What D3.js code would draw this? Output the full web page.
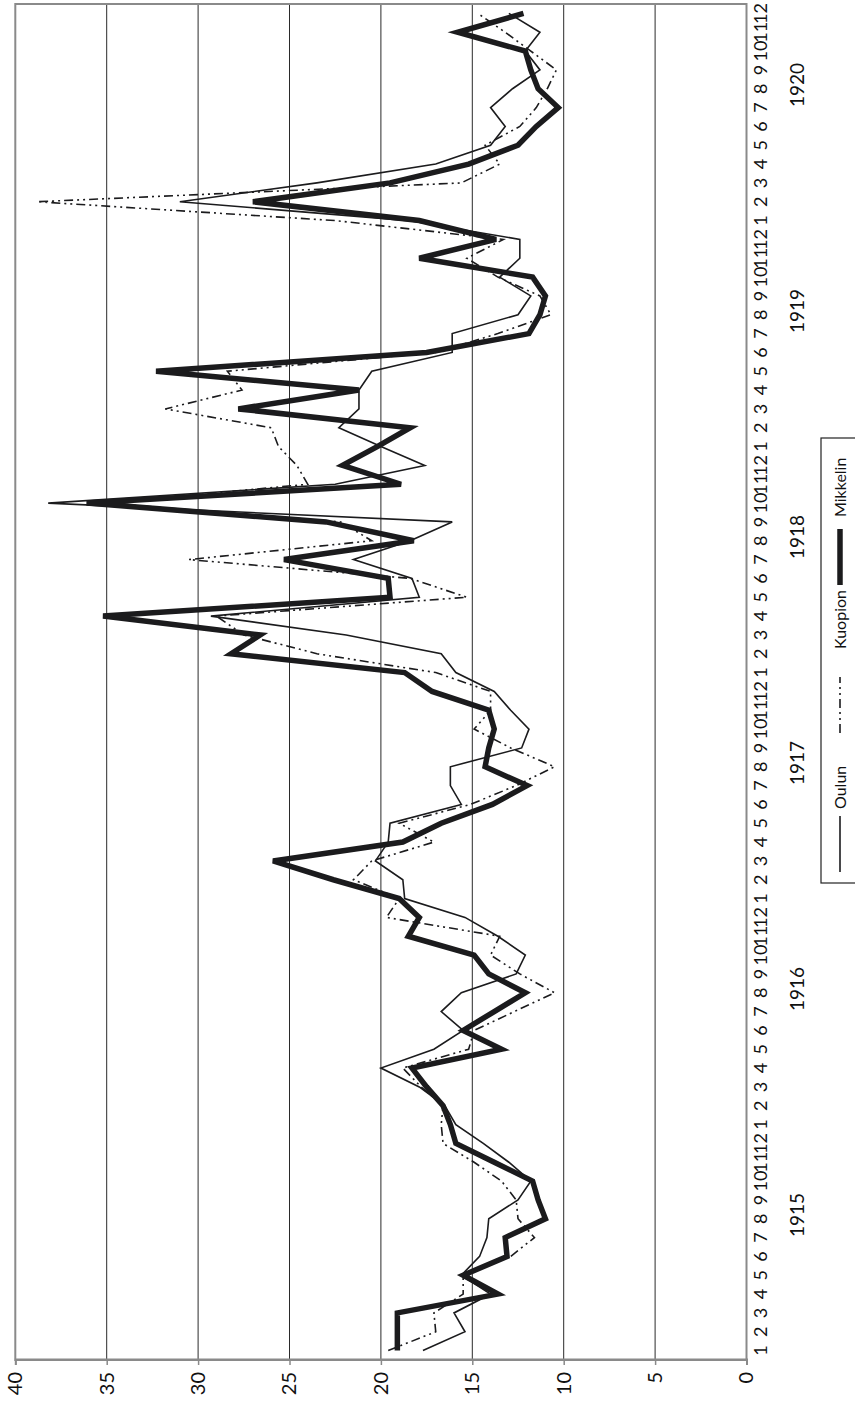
<!DOCTYPE html>
<html>
<head>
<meta charset="utf-8">
<script src="https://cdn.jsdelivr.net/npm/d3@7"></script>
<style>
  html, body { margin: 0; padding: 0; background: #fff; }
  svg { display: block; }
  text { font-family: Lato, "Open Sans", "Noto Sans", sans-serif; fill: #111; }
</style>
</head>
<body>
<svg id="chart" width="855" height="1403"></svg>
<script>
// Monthly series 1915–1920, one value per month
const years = ["1915", "1916", "1917", "1918", "1919", "1920"];
const monthLabels = ["1", "2", "3", "4", "5", "6", "7", "8", "9", "10", "11", "12"];
const valueTicks = [0, 5, 10, 15, 20, 25, 30, 35, 40];
const seriesNames = ["Oulun", "Kuopion", "Mikkelin"];

const oulun = [
  17.7, 15.4, 16.0, 14.0, 15.6, 14.6, 14.2, 14.1, 12.5, 11.8, 13.0, 14.4,
  15.9, 16.5, 17.9, 20.0, 17.1, 15.5, 16.7, 15.6, 12.6, 12.1, 13.6, 15.4,
  18.7, 18.8, 20.3, 19.6, 19.5, 15.6, 16.2, 16.2, 12.3, 11.9, 12.9, 13.8,
  15.9, 16.7, 21.9, 29.3, 17.9, 18.3, 21.5, 18.4, 16.1, 38.2, 22.5, 17.6,
  20.0, 22.3, 21.2, 21.2, 20.5, 16.1, 16.1, 12.5, 11.8, 13.5, 12.4, 12.4,
  18.5, 31.0, 23.5, 17.0, 14.0, 13.2, 14.0, 12.8, 11.3, 12.1, 11.3, 13.0
];
const kuopion = [
  19.6, 17.0, 17.1, 15.5, 15.5, 12.9, 11.6, 12.5, 12.6, 13.4, 14.9, 16.6,
  16.7, 16.6, 17.8, 18.8, 15.2, 14.9, 12.7, 10.5, 12.4, 14.0, 13.5, 19.7,
  19.0, 21.5, 20.5, 17.1, 19.0, 15.1, 12.6, 10.5, 12.9, 14.9, 14.0, 14.0,
  17.0, 23.5, 27.5, 29.0, 15.3, 18.4, 30.5, 20.5, 22.2, 35.0, 24.0, 24.6,
  25.6, 26.0, 31.8, 27.6, 28.4, 17.0, 13.6, 10.7, 11.3, 13.6, 15.3, 13.3,
  22.5, 38.8, 15.6, 13.5, 14.3, 12.4, 11.5, 10.9, 10.4, 11.8, 13.2, 14.7
];
const mikkelin = [
  19.1, 19.1, 19.1, 13.6, 15.5, 13.1, 13.2, 11.0, 11.4, 11.7, 13.8, 15.9,
  16.2, 16.6, 17.5, 18.3, 13.4, 15.5, 13.8, 12.1, 14.1, 14.9, 18.5, 17.9,
  19.0, 22.6, 25.9, 18.8, 16.7, 13.9, 12.0, 14.3, 14.1, 13.8, 14.1, 17.2,
  18.7, 28.2, 26.6, 35.2, 19.5, 19.6, 25.3, 18.2, 23.0, 36.1, 18.9, 22.1,
  20.2, 18.4, 27.8, 21.2, 32.3, 17.5, 11.9, 11.3, 11.0, 11.7, 17.9, 13.7,
  17.9, 27.0, 19.5, 15.2, 12.5, 11.5, 10.3, 11.4, 11.8, 12.1, 15.8, 12.2
];

// The chart is laid out landscape (FW x FH) and then turned a quarter turn
// counter-clockwise onto the portrait page.
const FW = 1403, FH = 855;
const plot = { left: 43, right: 1399, top: 15.3, bottom: 746.5 };
const fontStack = 'Lato, "Open Sans", "Noto Sans", sans-serif';

const svg = d3.select("#chart");
const g = svg.append("g").attr("transform", `translate(0,${FW}) rotate(-90)`);

// category index for every month of every year
const months = [];
years.forEach((yr, yi) => monthLabels.forEach((m, mi) => months.push({ yr, m, i: yi * 12 + mi })));

const x = d3.scaleBand().domain(months.map(d => d.i)).range([plot.left, plot.right]).padding(0);
const cx = i => x(i) + x.bandwidth() / 2;
const y = d3.scaleLinear().domain([0, 40]).range([plot.bottom, plot.top]);

// horizontal gridlines
g.append("g").selectAll("line")
  .data(valueTicks.filter(v => v > 0 && v < 40))
  .join("line")
  .attr("x1", plot.left).attr("x2", plot.right)
  .attr("y1", d => y(d)).attr("y2", d => y(d))
  .attr("stroke", "#2a2a2a").attr("stroke-width", 1);

// plot frame
g.append("rect")
  .attr("x", plot.left).attr("y", plot.top)
  .attr("width", plot.right - plot.left).attr("height", plot.bottom - plot.top)
  .attr("fill", "none").attr("stroke", "#8a8a8a").attr("stroke-width", 2);

// value axis
const yAxis = g.append("g")
  .attr("transform", `translate(${plot.left},0)`)
  .call(d3.axisLeft(y).tickValues(valueTicks).tickSize(5).tickPadding(7).tickFormat(d3.format("d")));
yAxis.select(".domain").attr("stroke", "#8a8a8a").attr("stroke-width", 2);
yAxis.selectAll(".tick line").attr("stroke", "#8a8a8a").attr("stroke-width", 1.5);
yAxis.selectAll(".tick text").style("font-size", "20px").attr("fill", "#111")
  .style("font-family", fontStack);

// category axis: month numbers, then years below
g.append("g").selectAll("text")
  .data(months)
  .join("text")
  .attr("x", d => cx(d.i))
  .attr("y", plot.bottom + 20)
  .attr("text-anchor", "middle")
  .style("font-size", "18px")
  .text(d => d.m);

g.append("g").selectAll("text")
  .data(years)
  .join("text")
  .attr("x", (d, yi) => plot.left + (yi * 12 + 7.7) * x.bandwidth())
  .attr("y", plot.bottom + 57)
  .attr("text-anchor", "middle")
  .style("font-size", "19px")
  .text(d => d);

// series lines
const line = d3.line().x((d, i) => cx(i)).y(d => y(d));
const series = [
  { name: seriesNames[0], values: oulun, width: 1.6, dash: null },
  { name: seriesNames[1], values: kuopion, width: 1.6, dash: "9,4,2,4,2,4" },
  { name: seriesNames[2], values: mikkelin, width: 5.5, dash: null }
];
g.append("g").selectAll("path")
  .data(series)
  .join("path")
  .attr("d", d => line(d.values))
  .attr("fill", "none")
  .attr("stroke", "#1b1b1d")
  .attr("stroke-width", d => d.width)
  .attr("stroke-linejoin", "miter")
  .attr("stroke-miterlimit", 4)
  .attr("stroke-dasharray", d => d.dash);

// legend box under the month axis
const leg = { x: 520, y: 821, w: 445, h: 40 };
svg.append("defs").append("clipPath").attr("id", "legclip")
  .append("rect").attr("x", leg.x).attr("y", leg.y).attr("width", leg.w).attr("height", leg.h);
const lg = g.append("g");
lg.append("rect")
  .attr("x", leg.x).attr("y", leg.y).attr("width", leg.w).attr("height", leg.h)
  .attr("fill", "#fff").attr("stroke", "#222").attr("stroke-width", 1.2);
const items = lg.append("g").attr("clip-path", "url(#legclip)");
const legendPos = [
  { lx: 531, tx: 594 },
  { lx: 670, tx: 754 },
  { lx: 818, tx: 886 }
];
series.forEach((s, i) => {
  const p = legendPos[i];
  items.append("line")
    .attr("x1", p.lx).attr("x2", p.lx + 56)
    .attr("y1", leg.y + 19).attr("y2", leg.y + 19)
    .attr("stroke", "#1b1b1d").attr("stroke-width", s.width)
    .attr("stroke-dasharray", s.dash);
  items.append("text")
    .attr("x", p.tx).attr("y", leg.y + 25)
    .style("font-size", "16px")
    .text(s.name);
});
</script>
</body>
</html>
